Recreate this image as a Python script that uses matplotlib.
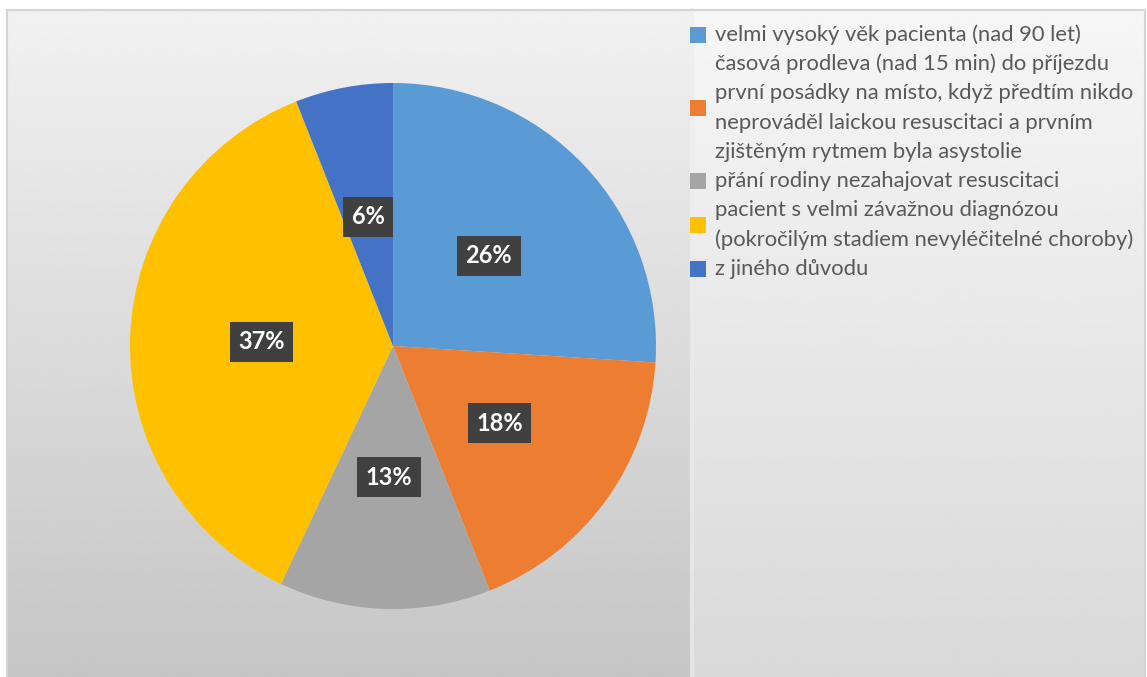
import numpy as np
import matplotlib
matplotlib.use("Agg")
import matplotlib.pyplot as plt
from matplotlib.patches import Rectangle

# share of each reason (percent)
categories = [
    "velmi vysoký věk pacienta (nad 90 let)",
    "časová prodleva (nad 15 min) do příjezdu\n"
    "první posádky na místo, když předtím nikdo\n"
    "neprováděl laickou resuscitaci a prvním\n"
    "zjištěným rytmem byla asystolie",
    "přání rodiny nezahajovat resuscitaci",
    "pacient s velmi závažnou diagnózou\n"
    "(pokročilým stadiem nevyléčitelné choroby)",
    "z jiného důvodu",
]
values = [26, 18, 13, 37, 6]
colors = ["#5B9BD5", "#ED7D31", "#A5A5A5", "#FFC000", "#4472C4"]

W, H = 1147, 677
plt.rcParams["font.family"] = ["Lato", "DejaVu Sans"]

fig = plt.figure(figsize=(W / 100, H / 100), dpi=100)

# background panels with a soft vertical gradient
bg = fig.add_axes([0, 0, 1, 1])
bg.set_xlim(0, W)
bg.set_ylim(H, 0)
bg.axis("off")
left_grad = np.linspace(0.945, 0.775, 256).reshape(-1, 1)
right_grad = np.linspace(0.965, 0.85, 256).reshape(-1, 1)
bg.imshow(left_grad, cmap="gray", vmin=0, vmax=1, aspect="auto",
          extent=(7, 690, H, 10), interpolation="bicubic", zorder=0)
bg.imshow(right_grad, cmap="gray", vmin=0, vmax=1, aspect="auto",
          extent=(690, 1145, H, 10), interpolation="bicubic", zorder=0)
bg.plot([692, 692], [10, H], color="#ececec", lw=3, alpha=0.6, zorder=1)
bg.plot([7, 1145], [10, 10], color="#d4d4d4", lw=1.5, zorder=1)
bg.plot([7, 7], [10, H], color="#d4d4d4", lw=1.5, zorder=1)
bg.plot([1145, 1145], [10, H], color="#d4d4d4", lw=1.5, zorder=1)
bg.set_xlim(0, W)
bg.set_ylim(H, 0)

# pie
cx, cy, r = 393, 346, 263
ax = fig.add_axes([(cx - r) / W, (H - cy - r) / H, 2 * r / W, 2 * r / H])
wedges, texts, autotexts = ax.pie(
    values, colors=colors, startangle=90, counterclock=False,
    autopct=lambda p: f"{p:.0f}%", pctdistance=0.5,
    wedgeprops=dict(linewidth=0),
    textprops=dict(color="white", fontsize=17, fontweight="bold"),
)
for t in autotexts:
    t.set_bbox(dict(boxstyle="square,pad=0.36", fc="#404040", ec="none"))
ax.set_xlim(-1, 1)
ax.set_ylim(-1, 1)
ax.set_aspect("auto")
ax.axis("off")

# legend drawn line by line
line_h = 29.2
y0 = 35
tx, mx, msize = 715, 690, 16
line = 0
for label, color in zip(categories, colors):
    rows = label.split("\n")
    ys = [y0 + (line + i) * line_h for i in range(len(rows))]
    for row, y in zip(rows, ys):
        bg.text(tx, y, row, fontsize=15.8, color="#595959", va="center",
                ha="left", zorder=3)
    yc = np.mean(ys)
    bg.add_patch(Rectangle((mx, yc - msize / 2), msize, msize, fc=color,
                           ec="none", zorder=3))
    line += len(rows)

fig.savefig("out.png", dpi=100)
